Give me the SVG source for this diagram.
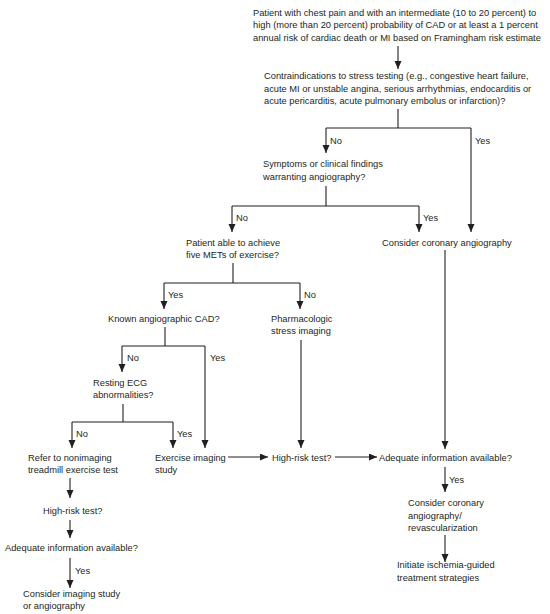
<svg xmlns="http://www.w3.org/2000/svg" width="550" height="614" viewBox="0 0 550 614">
<style>
text{font-family:"Liberation Sans",Arial,sans-serif;font-size:9.3px;fill:#231f20}
.c{fill:none;stroke:#231f20;stroke-width:1.1}
</style>
<defs>
<marker id="a" markerUnits="userSpaceOnUse" markerWidth="9" markerHeight="8" refX="8" refY="3.5" orient="auto"><path d="M0,0 L8,3.5 L0,7 z" fill="#231f20"/></marker>
</defs>
<rect width="550" height="614" fill="#fff"/>
<g id="connectors">
<path class="c" d="M398,46 V69" marker-end="url(#a)"/>
<path class="c" d="M398,109 V128 M326,128 H471"/>
<path class="c" d="M326,128 V153" marker-end="url(#a)"/>
<path class="c" d="M471,128 V232" marker-end="url(#a)"/>
<path class="c" d="M326,186 V206 M232,206 H419"/>
<path class="c" d="M232,206 V232" marker-end="url(#a)"/>
<path class="c" d="M419,206 V232" marker-end="url(#a)"/>
<path class="c" d="M233,263 V283 M164,283 H300"/>
<path class="c" d="M164,283 V309" marker-end="url(#a)"/>
<path class="c" d="M300,283 V309" marker-end="url(#a)"/>
<path class="c" d="M165,327 V346 M122,346 H205"/>
<path class="c" d="M122,346 V372" marker-end="url(#a)"/>
<path class="c" d="M205,346 V448" marker-end="url(#a)"/>
<path class="c" d="M123,404 V422 M72,422 H173"/>
<path class="c" d="M72,422 V448" marker-end="url(#a)"/>
<path class="c" d="M173,422 V448" marker-end="url(#a)"/>
<path class="c" d="M301,340 V448" marker-end="url(#a)"/>
<path class="c" d="M445,250 V449" marker-end="url(#a)"/>
<path class="c" d="M228,457 H268" marker-end="url(#a)"/>
<path class="c" d="M335,457 H377" marker-end="url(#a)"/>
<path class="c" d="M445,467 V492" marker-end="url(#a)"/>
<path class="c" d="M445,535 V562" marker-end="url(#a)"/>
<path class="c" d="M70,478 V498" marker-end="url(#a)"/>
<path class="c" d="M70,520 V538" marker-end="url(#a)"/>
<path class="c" d="M70,558 V588" marker-end="url(#a)"/>
</g>
<g id="labels">
<text x="330" y="144">No</text>
<text x="475" y="144">Yes</text>
<text x="236" y="221">No</text>
<text x="423" y="221">Yes</text>
<text x="168" y="298">Yes</text>
<text x="304" y="298">No</text>
<text x="127" y="361">No</text>
<text x="210" y="361">Yes</text>
<text x="76" y="437">No</text>
<text x="177" y="437">Yes</text>
<text x="449" y="483">Yes</text>
<text x="75" y="574">Yes</text>
</g>
<g id="n1"><text x="253" y="15.5">Patient with chest pain and with an intermediate (10 to 20 percent) to</text><text x="253" y="28">high (more than 20 percent) probability of CAD or at least a 1 percent</text><text x="253" y="40.5">annual risk of cardiac death or MI based on Framingham risk estimate</text></g>
<g id="n2"><text x="264" y="79">Contraindications to stress testing (e.g., congestive heart failure,</text><text x="264" y="91.5">acute MI or unstable angina, serious arrhythmias, endocarditis or</text><text x="264" y="104">acute pericarditis, acute pulmonary embolus or infarction)?</text></g>
<g id="n3"><text x="263" y="166.5">Symptoms or clinical findings</text><text x="263" y="179.5">warranting angiography?</text></g>
<g id="n4"><text x="186" y="245.5">Patient able to achieve</text><text x="186" y="258">five METs of exercise?</text></g>
<g id="n5"><text x="382" y="245.5">Consider coronary angiography</text></g>
<g id="n6"><text x="108" y="321.5">Known angiographic CAD?</text></g>
<g id="n7"><text x="271" y="321.5">Pharmacologic</text><text x="271" y="334">stress imaging</text></g>
<g id="n8"><text x="93" y="385.5">Resting ECG</text><text x="93" y="398">abnormalities?</text></g>
<g id="n9"><text x="28" y="460.5">Refer to nonimaging</text><text x="28" y="473">treadmill exercise test</text></g>
<g id="n10"><text x="155" y="460.5">Exercise imaging</text><text x="155" y="473">study</text></g>
<g id="n11"><text x="272" y="460.5">High-risk test?</text></g>
<g id="n12"><text x="379" y="460.5">Adequate information available?</text></g>
<g id="n13"><text x="408" y="506">Consider coronary</text><text x="408" y="518.5">angiography/</text><text x="408" y="531">revascularization</text></g>
<g id="n14"><text x="397" y="568">Initiate ischemia-guided</text><text x="397" y="580.5">treatment strategies</text></g>
<g id="n15"><text x="43" y="514">High-risk test?</text></g>
<g id="n16"><text x="5" y="551">Adequate information available?</text></g>
<g id="n17"><text x="23" y="597">Consider imaging study</text><text x="23" y="609">or angiography</text></g>
</svg>
